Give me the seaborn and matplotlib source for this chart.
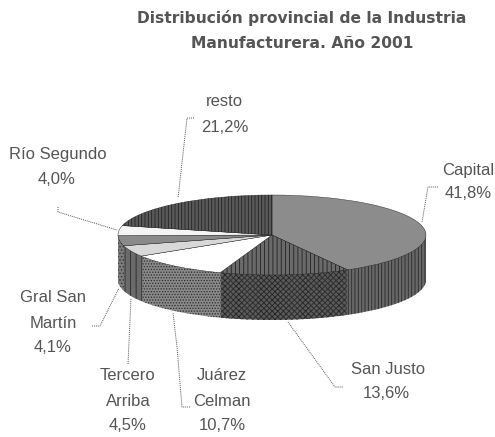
import matplotlib
matplotlib.use('Agg')
import seaborn as sns
import matplotlib.pyplot as plt

sns.set_theme(style='white')
plt.rcParams['font.family'] = ['Liberation Sans', 'DejaVu Sans']
plt.rcParams['hatch.linewidth'] = 0.6

provincias = ['Capital', 'San Justo', 'Juárez Celman', 'Tercero Arriba', 'Gral San Martín', 'Río Segundo', 'resto']
valores = [41.8, 13.6, 10.7, 4.5, 4.1, 4.0, 21.2]
etiquetas = ['41,8%', '13,6%', '10,7%', '4,5%', '4,1%', '4,0%', '21,2%']
color_arriba = ['#8c8c8c', '#6a6a6a', '#ffffff', '#d8d8d8', '#8a8a8a', '#f4f4f4', '#5a5a5a']
color_lado = ['#686868', '#5a5a5a', '#8a8a8a', '#6a6a6a', '#7c7c7c', '#707070', '#555555']
rayas_arriba = [None, '||||', None, None, None, None, '|||||']
rayas_lado = ['|||||', 'xxxxxx', '......', '|||', '.....', '.....', '|||||']

W, H = 495, 437
cx, cy, rx, ry = 272, 235, 154, 40
alto = 45

fig = plt.figure(figsize=(W / 100, H / 100), dpi=100)
fig.patch.set_facecolor('white')
ax = fig.add_axes([0, 0, 1, 1])

# cuerpo del cilindro: la misma torta apilada de abajo hacia arriba
for d in range(alto, 0, -1):
    lado, _ = ax.pie(valores, colors=color_lado, startangle=90, counterclock=False, radius=1,
                     center=(0, -d / ry), frame=True, wedgeprops={'linewidth': 0, 'edgecolor': '#222222'})
    for w, r in zip(lado, rayas_lado):
        w.set_hatch(r)
arriba, _ = ax.pie(valores, colors=color_arriba, startangle=90, counterclock=False, radius=1,
                   frame=True, wedgeprops={'linewidth': 0.3, 'edgecolor': '#222222'})
for w, r in zip(arriba, rayas_arriba):
    if r:
        w.set_hatch(r)

ax.set_aspect('auto')
ax.set_xlim(-cx / rx, (W - cx) / rx)
ax.set_ylim((cy - H) / ry, cy / ry)
ax.axis('off')

# capa en pixeles para textos y lineas guia
capa = fig.add_axes([0, 0, 1, 1])
capa.set_xlim(0, W)
capa.set_ylim(H, 0)
capa.axis('off')
capa.patch.set_alpha(0)

guias = [
    ([438, 428, 422], [187, 187, 222]),
    ([288, 335, 343], [322, 387, 387]),
    ([194, 187, 178], [118, 118, 198]),
    ([58, 58, 117], [207, 212, 230]),
    ([92, 100, 119], [326, 326, 288]),
    ([128, 131], [364, 298]),
    ([190, 182, 177, 173], [407, 407, 347, 313]),
]
for xs, ys in guias:
    capa.plot(xs, ys, color='#555555', lw=0.7, ls=(0, (1, 1)))

gris = '#555555'
titulo = ['Distribución provincial de la Industria', 'Manufacturera. Año 2001']
for y, t in zip([18, 43], titulo):
    capa.text(302, y, t, ha='center', va='center', fontsize=11.2, fontweight='bold', color=gris,
              family='DejaVu Sans')

textos = [
    (468, 170, provincias[0]), (468, 193, etiquetas[0]),
    (388, 369, provincias[1]), (386, 394, etiquetas[1]),
    (224, 101, provincias[6]), (225, 127, etiquetas[6]),
    (58, 155, provincias[5]), (57, 180, etiquetas[5]),
    (53, 297, 'Gral San'), (53, 323, 'Martín'), (53, 348, etiquetas[4]),
    (128, 375, 'Tercero'), (128, 401, 'Arriba'), (128, 426, etiquetas[3]),
    (222, 375, 'Juárez'), (222, 401, 'Celman'), (222, 426, etiquetas[2]),
]
for x, y, t in textos:
    capa.text(x, y, t, ha='center', va='center', fontsize=12, color=gris)

fig.savefig('out.png', dpi=100)
